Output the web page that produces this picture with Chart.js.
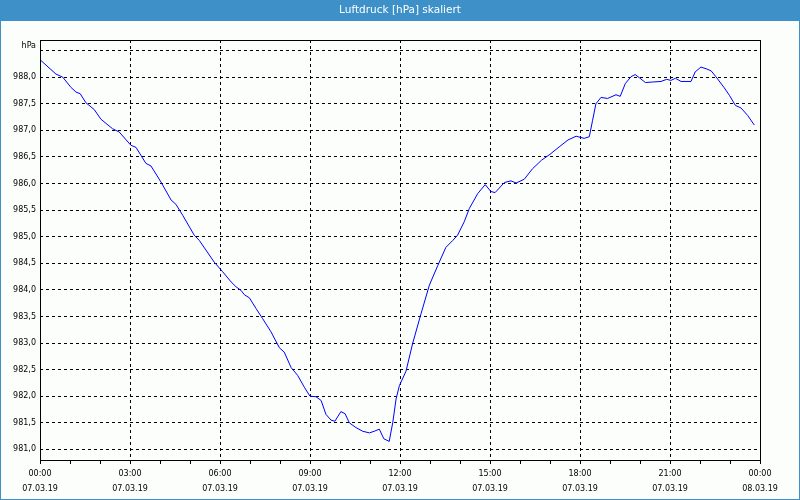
<!DOCTYPE html>
<html>
<head>
<meta charset="utf-8">
<script src="https://cdn.jsdelivr.net/npm/chart.js@4/dist/chart.umd.min.js"></script>
<style>
  body { margin: 0; background: #fcfefc; }
  canvas { display: block; }
</style>
</head>
<body>
<canvas id="myChart" width="800" height="500"></canvas>
<script>
const chartTitle = 'Luftdruck [hPa] skaliert';
const unitLabel = 'hPa';
const dayLabel = '07.03.19';
const nextDayLabel = '08.03.19';
// hours since 00:00 on 07.03.19 and pressure in hPa
const hours = [0, 0.53, 0.76, 1.03, 1.2, 1.34, 1.53, 1.81, 2.03, 2.42, 2.64, 3.03, 3.2, 3.53, 3.7, 4.03,
  4.37, 4.53, 4.76, 5.14, 5.31, 5.81, 6.09, 6.37, 6.53, 6.7, 6.81, 6.98, 7.2, 7.42, 7.7, 7.98,
  8.14, 8.37, 8.59, 8.81, 9.0, 9.2, 9.37, 9.53, 9.7, 9.83, 10.03, 10.17, 10.31, 10.53, 10.76, 10.98,
  11.14, 11.31, 11.46, 11.64, 11.76, 11.87, 11.98, 12.2, 12.42, 12.7, 12.98, 13.26, 13.53, 13.76, 13.92,
  14.14, 14.31, 14.59, 14.84, 15.03, 15.17, 15.48, 15.7, 15.87, 16.14, 16.42, 16.72, 17.0, 17.33, 17.6,
  17.87, 18.14, 18.31, 18.42, 18.53, 18.7, 18.92, 19.2, 19.34, 19.51, 19.7, 19.84, 19.98, 20.18, 20.42,
  20.7, 20.89, 21.03, 21.18, 21.37, 21.7, 21.84, 22.03, 22.2, 22.37, 22.53, 22.81, 22.98, 23.18, 23.37,
  23.59, 23.81];
const pressure = [988.33, 988.06, 988.0, 987.81, 987.72, 987.69, 987.52, 987.39, 987.21, 987.03, 986.97, 986.72, 986.68, 986.38, 986.33, 986.03,
  985.69, 985.61, 985.4, 985.03, 984.93, 984.52, 984.34, 984.15, 984.06, 983.99, 983.91, 983.85, 983.65, 983.46, 983.21, 982.91,
  982.83, 982.54, 982.39, 982.17, 982.0, 981.99, 981.92, 981.66, 981.55, 981.53, 981.71, 981.67, 981.5, 981.41, 981.34, 981.31,
  981.34, 981.38, 981.2, 981.15, 981.51, 981.95, 982.2, 982.47, 982.99, 983.55, 984.09, 984.46, 984.8, 984.93, 985.03,
  985.28, 985.53, 985.81, 985.98, 985.85, 985.83, 986.02, 986.05, 986.01, 986.08, 986.28, 986.44, 986.55, 986.7, 986.82,
  986.89, 986.85, 986.88, 987.19, 987.5, 987.62, 987.6, 987.67, 987.64, 987.88, 988.01, 988.05, 987.99, 987.9, 987.91,
  987.92, 987.96, 987.94, 987.98, 987.92, 987.92, 988.1, 988.19, 988.16, 988.12, 988.01, 987.8, 987.66, 987.47, 987.42,
  987.28, 987.1];

const points = hours.map((h, i) => ({x: h, y: pressure[i]}));
const tickFont = {family: '"DejaVu Sans"', size: 8};

const frame = {
  id: 'frame',
  beforeDraw(chart) {
    const {ctx, width, height} = chart;
    ctx.save();
    ctx.fillStyle = '#fcfefc';
    ctx.fillRect(0, 0, width, height);
    ctx.fillStyle = '#3d91c8';
    ctx.fillRect(0, 0, width, 21);
    ctx.strokeStyle = '#3d91c8';
    ctx.lineWidth = 1;
    ctx.strokeRect(0.5, 0.5, width - 1, height - 1);
    ctx.fillStyle = '#ffffff';
    ctx.font = '10.5px "DejaVu Sans"';
    ctx.textAlign = 'center';
    ctx.textBaseline = 'middle';
    ctx.fillText(chartTitle, width / 2, 10.5);
    ctx.restore();
  },
  afterDraw(chart) {
    const {ctx, chartArea: {left, right, top, bottom}} = chart;
    ctx.save();
    ctx.strokeStyle = '#000';
    ctx.lineWidth = 1;
    ctx.strokeRect(left + 0.5, top + 0.5, right - left, bottom - top);
    ctx.fillStyle = '#000';
    ctx.font = '8px "DejaVu Sans"';
    ctx.textAlign = 'right';
    ctx.textBaseline = 'middle';
    ctx.fillText(unitLabel, left - 4, top + 5.5);
    ctx.restore();
  }
};

new Chart(document.getElementById('myChart'), {
  type: 'line',
  data: {
    datasets: [{
      data: points,
      borderColor: '#0000ff',
      borderWidth: 1,
      pointRadius: 0,
      tension: 0,
      fill: false
    }]
  },
  options: {
    responsive: false,
    animation: false,
    devicePixelRatio: 1,
    layout: {padding: {top: 40, left: 0, right: 40, bottom: 0}},
    plugins: {legend: {display: false}, tooltip: {enabled: false}, title: {display: false}},
    scales: {
      x: {
        type: 'linear',
        min: 0, max: 24,
        afterFit: (s) => { s.height = 40; },
        border: {display: false, dash: [3, 3]},
        grid: {
          color: (c) => (c.tick && c.tick.value % 3 === 0) ? '#000' : 'rgba(0,0,0,0)',
          tickColor: '#000',
          tickLength: 4,
          lineWidth: 1
        },
        ticks: {
          stepSize: 1,
          autoSkip: false,
          maxRotation: 0,
          padding: 3,
          color: '#000',
          font: {...tickFont, lineHeight: 1.8},
          callback: (v) => {
            if (v % 3 !== 0) return '';
            const hh = String(v % 24).padStart(2, '0') + ':00';
            return [hh, v === 24 ? nextDayLabel : dayLabel];
          }
        }
      },
      y: {
        min: 980.8, max: 988.7,
        afterFit: (s) => { s.width = 40; },
        border: {display: false, dash: [3, 3]},
        grid: {color: '#000', lineWidth: 1, drawTicks: false},
        ticks: {
          stepSize: 0.5,
          includeBounds: false,
          padding: 4,
          color: '#000',
          font: tickFont,
          callback: (v) => v > 988.4 ? '' : v.toFixed(1).replace('.', ',')
        }
      }
    }
  },
  plugins: [frame]
});
</script>
</body>
</html>
